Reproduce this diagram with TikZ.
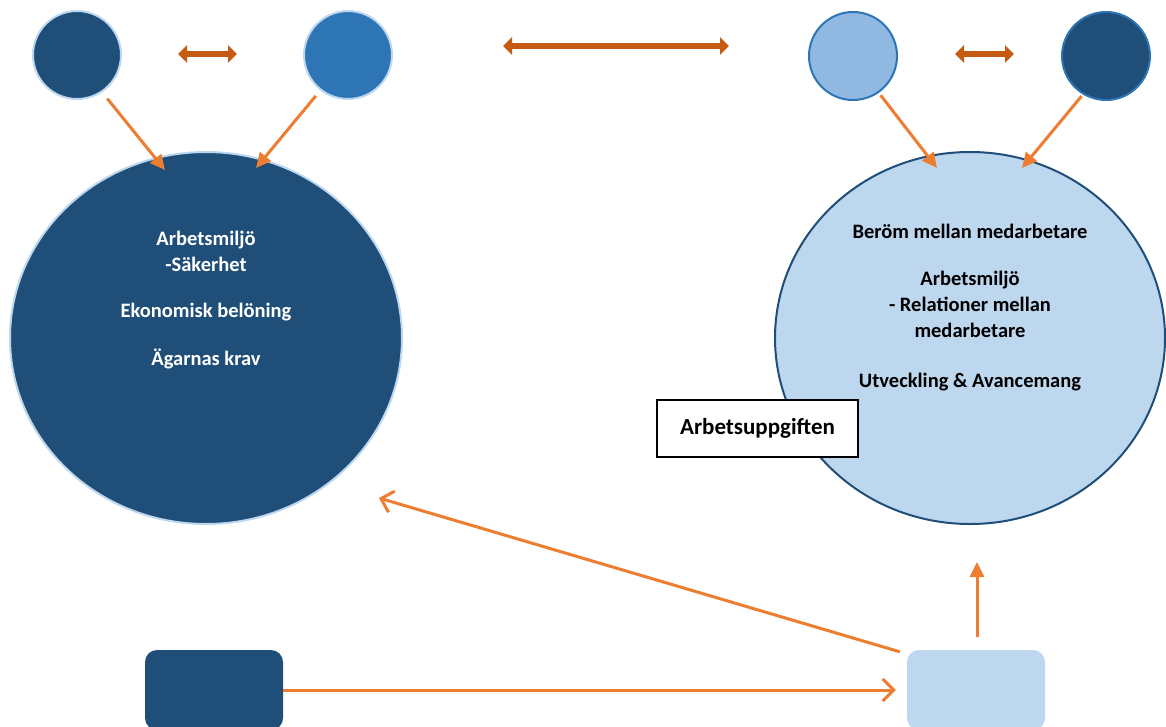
\documentclass[tikz,border=0pt]{standalone}
\usepackage{fontspec}
\setmainfont{Carlito}
\usetikzlibrary{arrows.meta,shapes.geometric,calc}
\definecolor{dkblue}{HTML}{1F4E79}
\definecolor{midblue}{HTML}{2E75B6}
\definecolor{ltblue}{HTML}{8FB9E0}
\definecolor{paleblue}{HTML}{BDD7EE}
\definecolor{arrorange}{HTML}{ED7D31}
\definecolor{arrbrown}{HTML}{C55A11}
\begin{document}
\begin{tikzpicture}[x=1pt,y=-1pt,
  txt/.style={font=\bfseries\fontsize{20.5}{26}\selectfont, align=center, inner sep=0pt},
  smallc/.style={circle, minimum size=88pt, inner sep=0pt, line width=2pt},
  conn/.style={draw=arrorange, line width=3pt, -{Triangle[width=14pt,length=15pt]}},
  openarr/.style={draw=arrorange, line width=3pt, -{Straight Barb[width=22pt,length=11pt]}},
  dbl/.style={draw=arrbrown, line width=6.5pt, {Triangle[width=17pt,length=9pt]}-{Triangle[width=17pt,length=9pt]}},
  rbox/.style={rectangle, rounded corners=12pt, minimum width=138pt, minimum height=80pt, inner sep=0pt}
]
\path[use as bounding box] (0,0) rectangle (1166,726);
\clip (0,0) rectangle (1166,726);

% small circles
\node[smallc, fill=dkblue, draw=paleblue] (c1) at (77,55) {};
\node[smallc, fill=midblue, draw=paleblue] (c2) at (348,55) {};
\node[smallc, fill=ltblue, draw=midblue] (c3) at (853,56) {};
\node[smallc, fill=dkblue, draw=midblue] (c4) at (1106,56) {};

% double arrows
\coordinate (d1a) at (178,54); \coordinate (d1b) at (237,54);
\coordinate (d2a) at (503,46); \coordinate (d2b) at (729,46);
\coordinate (d3a) at (955,54); \coordinate (d3b) at (1014,54);
\draw[dbl] (d1a) -- (d1b);
\draw[dbl] (d2a) -- (d2b);
\draw[dbl] (d3a) -- (d3b);

% big circles
\node[ellipse, fill=dkblue, draw=paleblue, line width=2pt, minimum width=392pt, minimum height=372pt, inner sep=0pt] (bigL) at (206,338) {};
\node[ellipse, fill=paleblue, draw=dkblue, line width=2pt, minimum width=390pt, minimum height=372pt, inner sep=0pt] (bigR) at (970,338) {};

% texts left
\node[txt, text=white] (tL1) at (206,251) {Arbetsmiljö\\-Säkerhet};
\node[txt, text=white] (tL2) at (206,312) {Ekonomisk belöning};
\node[txt, text=white] (tL3) at (206,359) {Ägarnas krav};

% texts right
\node[txt, text=black] (tR1) at (970,231) {Beröm mellan medarbetare};
\node[txt, text=black] (tR2) at (970,304) {Arbetsmiljö\\- Relationer mellan\\medarbetare};
\node[txt, text=black] (tR3) at (970,382) {Utveckling \& Avancemang};

% task box
\node[draw=black, fill=white, line width=2.2pt, minimum width=201pt, minimum height=57pt, inner sep=0pt,
      font=\bfseries\fontsize{23}{28}\selectfont] (task) at (757.5,428.5) {Arbetsuppgiften};

% arrows from small circles
\coordinate (e1) at (165,170);
\coordinate (e2) at (256,168);
\coordinate (e3) at (937,168);
\coordinate (e4) at (1022,168);
\draw[conn, shorten <=8pt] (c1.-56) -- (e1);
\draw[conn, shorten <=7pt] (c2.-128) -- (e2);
\draw[conn, shorten <=3pt] (c3.-55) -- (e3);
\draw[conn, shorten <=2pt] (c4.-121) -- (e4);

% bottom boxes
\node[rbox, fill=dkblue] (r1) at (214,690) {};
\node[rbox, fill=paleblue] (r2) at (976,690) {};

\coordinate (dg) at (379,498);
\coordinate (vt) at (977,562);
\draw[openarr] (r1.east) -- ($(r2.west)+(-11,0)$);
\draw[openarr] ($(r2.north west)+(-7,2)$) -- (dg);
\draw[conn] ($(r2.north)+(1,-13)$) -- (vt);
\end{tikzpicture}
\end{document}
